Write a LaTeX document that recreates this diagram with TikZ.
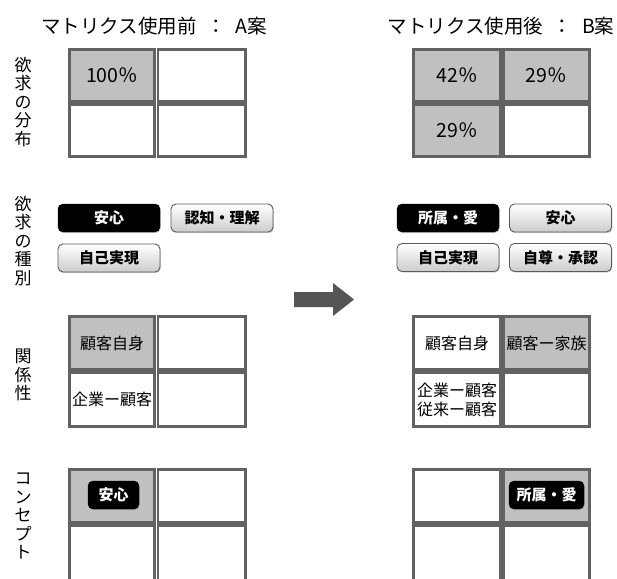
\documentclass[tikz,border=0pt]{standalone}
\usepackage{fontspec}
\setmainfont{Noto Sans CJK JP}
\usetikzlibrary{shadows}
\definecolor{cellgray}{HTML}{C0C0C0}
\definecolor{linegray}{HTML}{626262}
\definecolor{arrowgray}{HTML}{555555}
\definecolor{tagborder}{HTML}{5A5A5A}
\tikzset{
  cellbox/.style={draw=linegray, line width=2.8pt, fill=white, inner sep=0pt, anchor=center},
  shaded/.style={fill=cellgray},
  celltext/.style={font=\fontsize{16pt}{19pt}\selectfont, align=center},
  pcttext/.style={font=\fontsize{19.5pt}{22pt}\selectfont},
  tagbox/.style={draw=tagborder, line width=0.9pt, rounded corners=5pt, top color=white, bottom color=gray!40,
    minimum width=102pt, minimum height=28pt, inner sep=0pt,
    font=\bfseries\fontsize{15pt}{17pt}\selectfont,
    drop shadow={shadow xshift=0.8pt, shadow yshift=-1.2pt, opacity=0.35}},
  blacktag/.style={fill=black, draw=black, rounded corners=5pt, text=white, inner sep=0pt,
    minimum height=28pt, font=\bfseries\fontsize{15pt}{17pt}\selectfont,
    drop shadow={shadow xshift=0.8pt, shadow yshift=-1.2pt, opacity=0.35}},
  vlabel/.style={align=center, font=\fontsize{17pt}{18.5pt}\selectfont, inner sep=0pt},
  header/.style={font=\fontsize{19.5pt}{21pt}\selectfont, inner sep=0pt},
}
\begin{document}
\begin{tikzpicture}[x=1pt,y=-1pt]
\useasboundingbox[fill=white] (0,0) rectangle (617,578);
\begin{scope}
\clip (0,0) rectangle (617,578);
% headers
\node[header] (hA) at (154,26) {マトリクス使用前\enspace ：\enspace A案};
\node[header] (hB) at (501,26) {マトリクス使用後\enspace ：\enspace B案};
% row labels
\node[vlabel] (l1) at (23,102) {欲\\求\\の\\分\\布};
\node[vlabel] (l2) at (23,241) {欲\\求\\の\\種\\別};
\node[vlabel] (l3) at (23,375) {関\\係\\性};
\node[vlabel] (l4) at (23,516) {コ\\ン\\セ\\プ\\ト};

% grid 1 left
\node[cellbox, shaded, minimum width=85pt, minimum height=52pt] (a11) at (112,75.5) {};
\node[pcttext] at (a11) {100％};
\node[cellbox, minimum width=87.5pt, minimum height=52pt] (a12) at (201.8,75.5) {};
\node[cellbox, minimum width=85pt, minimum height=52pt] (a21) at (112,130.5) {};
\node[cellbox, minimum width=87.5pt, minimum height=52pt] (a22) at (201.8,130.5) {};
% grid 1 right
\node[cellbox, shaded, minimum width=87pt, minimum height=52pt] (b11) at (457,75.5) {};
\node[pcttext] at (b11) {42％};
\node[cellbox, shaded, minimum width=86pt, minimum height=52pt] (b12) at (546.5,75.5) {};
\node[pcttext] at (b12) {29％};
\node[cellbox, shaded, minimum width=87pt, minimum height=52pt] (b21) at (457,130.5) {};
\node[pcttext] at (b21) {29％};
\node[cellbox, minimum width=86pt, minimum height=52pt] (b22) at (546.5,130.5) {};

% tags left
\node[blacktag, minimum width=102pt] (tA1) at (109,218) {安心};
\node[tagbox] (tA2) at (222,218) {認知・理解};
\node[tagbox] (tA3) at (109,258) {自己実現};
% tags right
\node[blacktag, minimum width=102pt] (tB1) at (448,218) {所属・愛};
\node[tagbox] (tB2) at (560.5,218) {安心};
\node[tagbox] (tB3) at (448,257.5) {自己実現};
\node[tagbox] (tB4) at (560.5,257.5) {自尊・承認};

% arrow
\fill[arrowgray] (294,292) -- (333,292) -- (333,283) -- (354,299.5) -- (333,316) -- (333,307) -- (294,307) -- cycle;

% relation grid left
\node[cellbox, shaded, minimum width=85pt, minimum height=53pt] (c11) at (112,343) {};
\node[celltext] at (c11) {顧客自身};
\node[cellbox, minimum width=87.5pt, minimum height=53pt] (c12) at (201.8,343) {};
\node[cellbox, minimum width=85pt, minimum height=54pt] (c21) at (112,399.5) {};
\node[celltext] at (c21) {企業ー顧客};
\node[cellbox, minimum width=87.5pt, minimum height=54pt] (c22) at (201.8,399.5) {};
% relation grid right
\node[cellbox, minimum width=87pt, minimum height=53pt] (d11) at (457,343) {};
\node[celltext] at (d11) {顧客自身};
\node[cellbox, shaded, minimum width=86pt, minimum height=53pt] (d12) at (546.5,343) {};
\node[celltext] at (d12) {顧客ー家族};
\node[cellbox, minimum width=87pt, minimum height=54pt] (d21) at (457,399.5) {};
\node[celltext] at (d21) {企業ー顧客\\従来ー顧客};
\node[cellbox, minimum width=86pt, minimum height=54pt] (d22) at (546.5,399.5) {};

% concept grid left
\node[cellbox, shaded, minimum width=85pt, minimum height=53pt] (e11) at (112,496) {};
\node[blacktag, minimum width=51pt] (eA) at (113.5,495) {安心};
\node[cellbox, minimum width=87.5pt, minimum height=53pt] (e12) at (201.8,496) {};
\node[cellbox, minimum width=85pt, minimum height=70pt] (e21) at (112,560.5) {};
\node[cellbox, minimum width=87.5pt, minimum height=70pt] (e22) at (201.8,560.5) {};
% concept grid right
\node[cellbox, minimum width=87pt, minimum height=53pt] (f11) at (457,496) {};
\node[cellbox, shaded, minimum width=86pt, minimum height=53pt] (f12) at (546.5,496) {};
\node[blacktag, minimum width=75pt] (fB) at (546.5,495) {所属・愛};
\node[cellbox, minimum width=87pt, minimum height=70pt] (f21) at (457,560.5) {};
\node[cellbox, minimum width=86pt, minimum height=70pt] (f22) at (546.5,560.5) {};
\end{scope}
\end{tikzpicture}
\end{document}
